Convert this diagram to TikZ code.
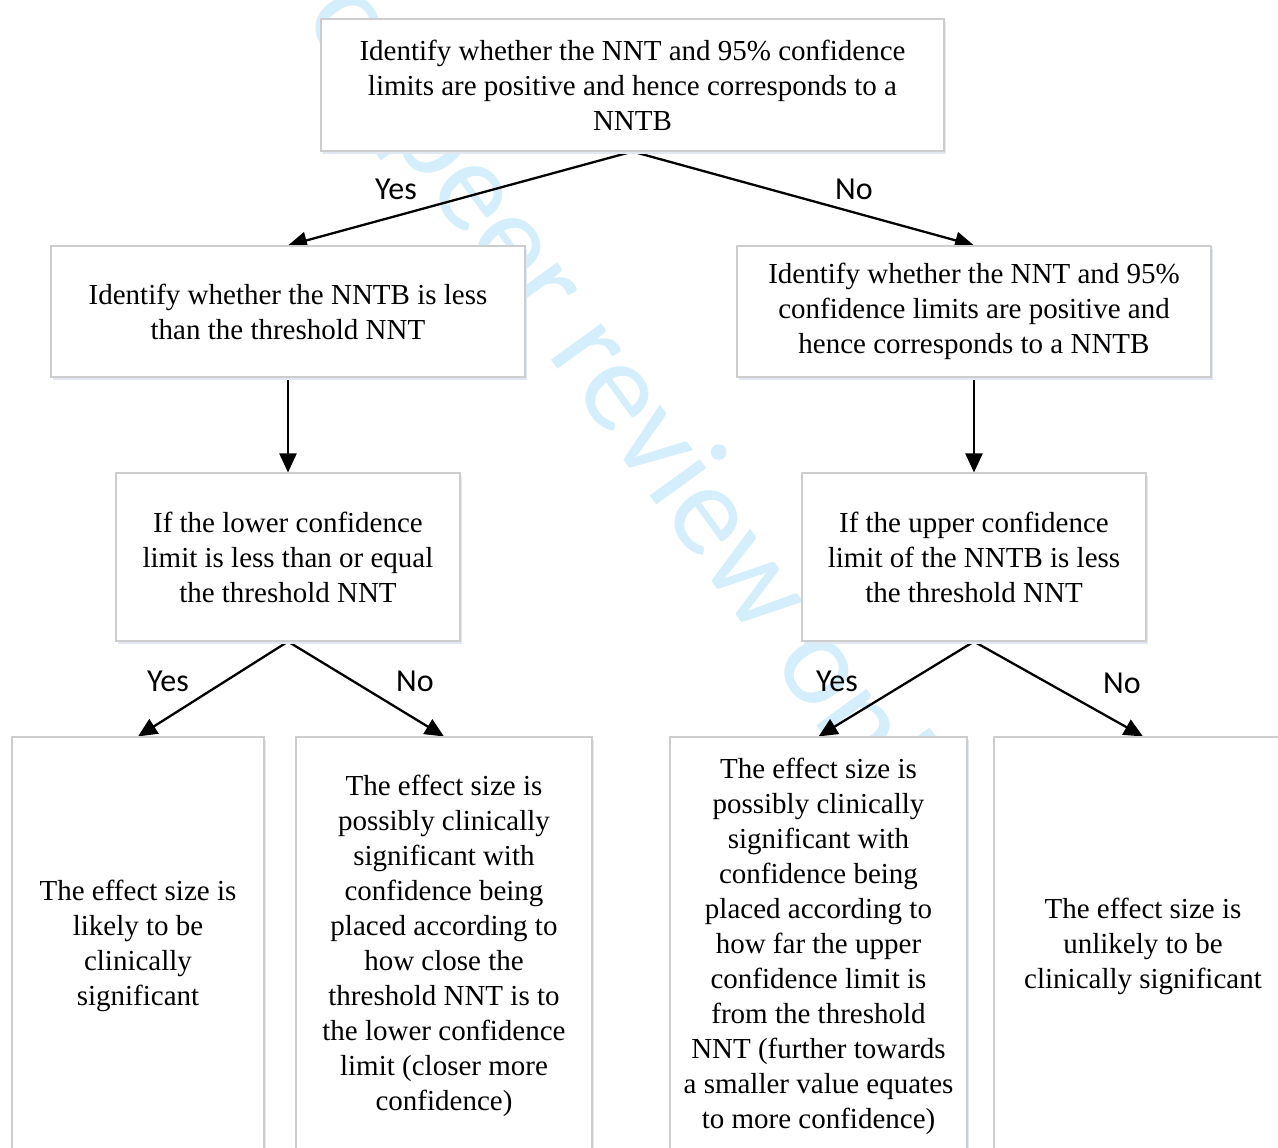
\documentclass[tikz,border=0pt]{standalone}
\usepackage{fontspec}
\setmainfont{Liberation Serif}
\newfontfamily\lblfont{Carlito}
\usetikzlibrary{arrows.meta,shadows}
\pgfdeclarelayer{wm}
\pgfdeclarelayer{bg}
\pgfsetlayers{wm,bg,main}
\definecolor{wmblue}{RGB}{212,239,251}
\definecolor{boxline}{RGB}{205,205,205}
\definecolor{shadowc}{RGB}{225,232,242}
\begin{document}
\begin{tikzpicture}[x=1pt,y=-1pt,
  box/.style={draw=boxline, line width=1.1pt, fill=white, align=center, inner sep=0pt,
    font=\fontsize{29}{35}\selectfont,
    drop shadow={shadow xshift=2pt, shadow yshift=-3pt, fill=shadowc, opacity=1}},
  arr/.style={line width=2.3pt, line join=miter, -{Triangle[length=19pt,width=17pt]}},
  lbl/.style={font=\lblfont\fontsize{32}{32}\selectfont, inner sep=0pt}]
\useasboundingbox (0,0) rectangle (1278,1148);

\begin{pgfonlayer}{wm}
\fill[white] (0,0) rectangle (1278,1148);
\node[font=\lblfont\fontsize{130}{130}\selectfont, text=wmblue, rotate=-54,
      anchor=base west, inner sep=0pt] (wm) at (268,-30) {For peer review only};
\end{pgfonlayer}

\node[box, minimum width=623pt, minimum height=132pt] (top) at (632.5,85)
  {Identify whether the NNT and 95\% confidence\\limits are positive and hence corresponds to a\\NNTB};
\node[box, minimum width=474pt, minimum height=131pt] (L1) at (288,311.5)
  {Identify whether the NNTB is less\\than the threshold NNT};
\node[box, minimum width=474pt, minimum height=131pt] (R1) at (974,311.5)
  {Identify whether the NNT and 95\%\\confidence limits are positive and\\hence corresponds to a NNTB};
\node[box, minimum width=344pt, minimum height=168pt] (L2) at (288,557)
  {If the lower confidence\\limit is less than or equal\\the threshold NNT};
\node[box, minimum width=344pt, minimum height=168pt] (R2) at (974,557)
  {If the upper confidence\\limit of the NNTB is less\\the threshold NNT};
\node[box, minimum width=252pt, minimum height=418pt] (B1) at (138,946)
  {The effect size is\\likely to be\\clinically\\significant};
\node[box, minimum width=296pt, minimum height=418pt] (B2) at (444,946)
  {The effect size is\\possibly clinically\\significant with\\confidence being\\placed according to\\how close the\\threshold NNT is to\\the lower confidence\\limit (closer more\\confidence)};
\node[box, minimum width=297pt, minimum height=418pt] (B3) at (818.5,946)
  {The effect size is\\possibly clinically\\significant with\\confidence being\\placed according to\\how far the upper\\confidence limit is\\from the threshold\\NNT (further towards\\a smaller value equates\\to more confidence)};
\node[box, minimum width=298pt, minimum height=418pt] (B4) at (1143,946)
  {The effect size is\\unlikely to be\\clinically significant};

\node[lbl] (y1) at (396,189) {Yes};
\node[lbl] (n1) at (854,189) {No};
\node[lbl] (y2) at (168,681) {Yes};
\node[lbl] (n2) at (415,681) {No};
\node[lbl] (y3) at (837,681) {Yes};
\node[lbl] (n3) at (1122,683) {No};

\begin{pgfonlayer}{bg}
\draw[arr] (top.south) -- (L1.north);
\draw[arr] (top.south) -- (R1.north);
\draw[arr] (L1.south) -- (L2.north);
\draw[arr] (R1.south) -- (R2.north);
\draw[arr] (L2.south) -- (B1.north);
\draw[arr] (L2.south) -- (B2.north);
\draw[arr] (R2.south) -- (B3.north);
\draw[arr] (R2.south) -- (B4.north);
\end{pgfonlayer}
\end{tikzpicture}
\end{document}
